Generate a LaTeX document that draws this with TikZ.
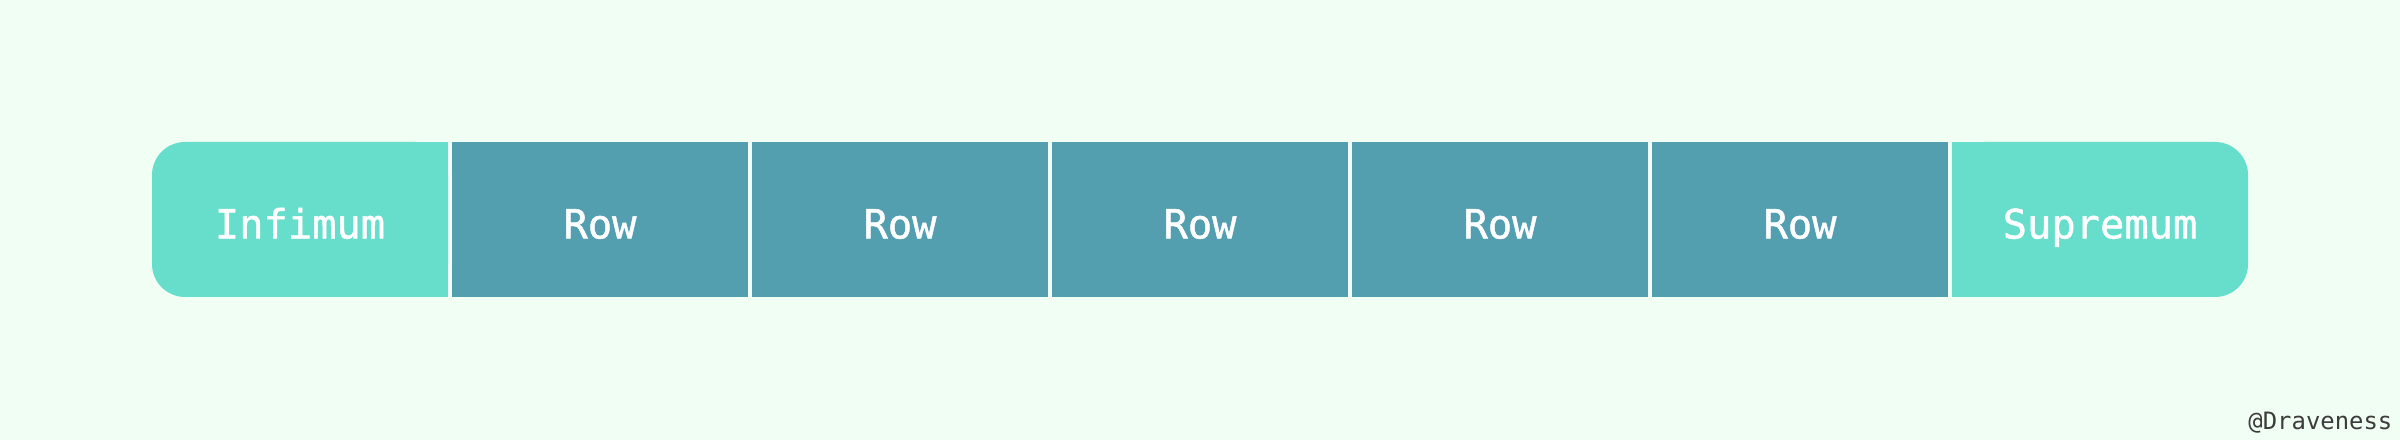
\documentclass[tikz,border=0pt]{standalone}
\usepackage{fontspec}
\setmonofont{DejaVu Sans Mono}
\newfontfamily\cellfont{DejaVu Sans Mono}[FakeBold=1.2]
\usepackage{xcolor}
\usepackage{tikz}
\usetikzlibrary{positioning,backgrounds}

\definecolor{pagebg}{HTML}{F1FEF3}
\definecolor{endfill}{HTML}{66DECB}
\definecolor{rowfill}{HTML}{539FB0}
\definecolor{signgray}{HTML}{3C3C3C}

\begin{document}
\begin{tikzpicture}[node distance=0.04cm,
  cell/.style={minimum width=2.96cm, minimum height=1.55cm, inner sep=0pt, outer sep=0pt,
    text height=1.08em, text depth=0pt,
    text=white, font=\cellfont\fontsize{11.5}{13}\selectfont},
  rowcell/.style={cell, fill=rowfill},
  endcell/.style={cell}]
\useasboundingbox (0,0) rectangle (24,4.4);

\node[endcell] (inf) at (3.0,2.205) {Infimum};
\node[rowcell, right=of inf] (row1) {Row};
\node[rowcell, right=of row1] (row2) {Row};
\node[rowcell, right=of row2] (row3) {Row};
\node[rowcell, right=of row3] (row4) {Row};
\node[rowcell, right=of row4] (row5) {Row};
\node[endcell, right=of row5] (sup) {Supremum};

\node[anchor=base east, text=signgray, inner sep=0pt, font=\ttfamily\fontsize{6.8}{8}\selectfont]
  (sign) at (23.93,0.10) {@Draveness};

% page and the two rounded ends
\begin{scope}[on background layer]
\fill[pagebg] (0,0) rectangle (24,4.4);
\fill[endfill, rounded corners=0.33cm] (inf.south west) rectangle (inf.north east);
\fill[endfill] (inf.south) rectangle (inf.north east);
\fill[endfill, rounded corners=0.33cm] (sup.south west) rectangle (sup.north east);
\fill[endfill] (sup.south west) rectangle (sup.north);
\end{scope}
\end{tikzpicture}
\end{document}
